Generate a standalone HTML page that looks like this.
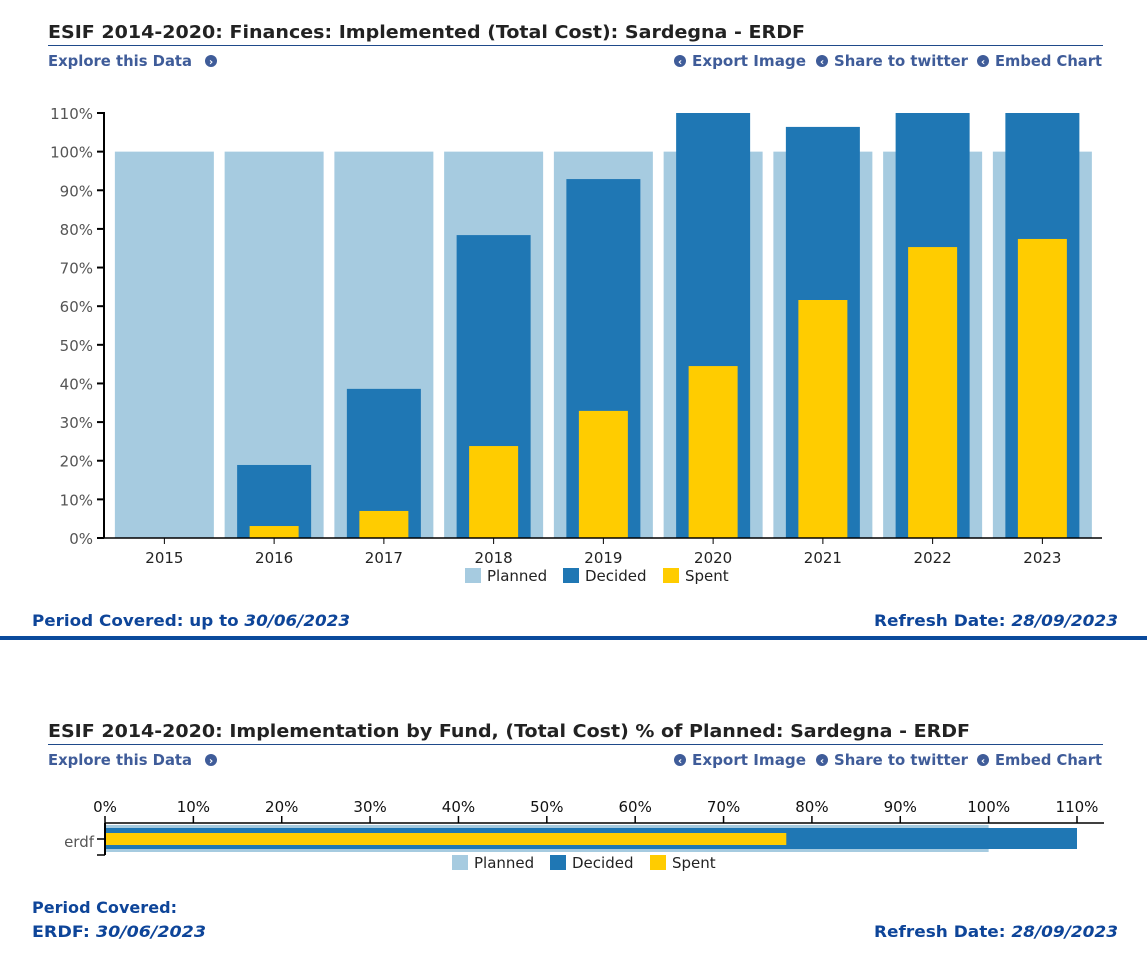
<!DOCTYPE html>
<html><head><meta charset="utf-8"><style>
html,body{margin:0;padding:0;background:#fff;}
svg{display:block;font-family:"DejaVu Sans","Liberation Sans",sans-serif;}
</style></head><body>
<svg id="page" width="1147" height="967" viewBox="0 0 1147 967" xmlns="http://www.w3.org/2000/svg">
<g>
<text x="48" y="38" font-size="18" font-weight="bold" fill="#222" textLength="757" lengthAdjust="spacingAndGlyphs">ESIF 2014-2020: Finances: Implemented (Total Cost): Sardegna - ERDF</text>
<line x1="48" y1="45.5" x2="1103" y2="45.5" stroke="#1f4a8a" stroke-width="1"/>
<g><text x="48" y="66" font-size="15" font-weight="bold" fill="#3f5c99" textLength="144" lengthAdjust="spacingAndGlyphs">Explore this Data</text><circle cx="211" cy="61" r="6" fill="#3f5c99"/><text x="211" y="65" font-size="10" font-weight="bold" fill="#fff" text-anchor="middle">›</text></g>
<g><circle cx="680" cy="61" r="6" fill="#3f5c99"/><text x="680" y="65" font-size="10" font-weight="bold" fill="#fff" text-anchor="middle">‹</text><text x="692" y="66" font-size="15" font-weight="bold" fill="#3f5c99" textLength="114" lengthAdjust="spacingAndGlyphs">Export Image</text></g>
<g><circle cx="822" cy="61" r="6" fill="#3f5c99"/><text x="822" y="65" font-size="10" font-weight="bold" fill="#fff" text-anchor="middle">‹</text><text x="834" y="66" font-size="15" font-weight="bold" fill="#3f5c99" textLength="134" lengthAdjust="spacingAndGlyphs">Share to twitter</text></g>
<g><circle cx="983" cy="61" r="6" fill="#3f5c99"/><text x="983" y="65" font-size="10" font-weight="bold" fill="#fff" text-anchor="middle">‹</text><text x="995" y="66" font-size="15" font-weight="bold" fill="#3f5c99" textLength="107" lengthAdjust="spacingAndGlyphs">Embed Chart</text></g>
</g>
<g id="chart1"></g>
<g>
<text x="32" y="626" font-size="16" font-weight="bold" fill="#0e4599" textLength="318" lengthAdjust="spacingAndGlyphs">Period Covered: up to <tspan font-style="italic">30/06/2023</tspan></text>
<text x="874" y="626" font-size="16" font-weight="bold" fill="#0e4599" textLength="244" lengthAdjust="spacingAndGlyphs">Refresh Date: <tspan font-style="italic">28/09/2023</tspan></text>
</g>
<rect x="0" y="636" width="1147" height="4" fill="#0a4a9c"/>
<g>
<text x="48" y="737" font-size="18" font-weight="bold" fill="#222" textLength="922" lengthAdjust="spacingAndGlyphs">ESIF 2014-2020: Implementation by Fund, (Total Cost) % of Planned: Sardegna - ERDF</text>
<line x1="48" y1="744.5" x2="1103" y2="744.5" stroke="#1f4a8a" stroke-width="1"/>
<g><text x="48" y="765" font-size="15" font-weight="bold" fill="#3f5c99" textLength="144" lengthAdjust="spacingAndGlyphs">Explore this Data</text><circle cx="211" cy="760" r="6" fill="#3f5c99"/><text x="211" y="764" font-size="10" font-weight="bold" fill="#fff" text-anchor="middle">›</text></g>
<g><circle cx="680" cy="760" r="6" fill="#3f5c99"/><text x="680" y="764" font-size="10" font-weight="bold" fill="#fff" text-anchor="middle">‹</text><text x="692" y="765" font-size="15" font-weight="bold" fill="#3f5c99" textLength="114" lengthAdjust="spacingAndGlyphs">Export Image</text></g>
<g><circle cx="822" cy="760" r="6" fill="#3f5c99"/><text x="822" y="764" font-size="10" font-weight="bold" fill="#fff" text-anchor="middle">‹</text><text x="834" y="765" font-size="15" font-weight="bold" fill="#3f5c99" textLength="134" lengthAdjust="spacingAndGlyphs">Share to twitter</text></g>
<g><circle cx="983" cy="760" r="6" fill="#3f5c99"/><text x="983" y="764" font-size="10" font-weight="bold" fill="#fff" text-anchor="middle">‹</text><text x="995" y="765" font-size="15" font-weight="bold" fill="#3f5c99" textLength="107" lengthAdjust="spacingAndGlyphs">Embed Chart</text></g>
</g>
<g id="chart2"></g>
<g>
<text x="32" y="913" font-size="16" font-weight="bold" fill="#0e4599" textLength="145" lengthAdjust="spacingAndGlyphs">Period Covered:</text>
<text x="32" y="937" font-size="16" font-weight="bold" fill="#0e4599" textLength="174" lengthAdjust="spacingAndGlyphs">ERDF: <tspan font-style="italic">30/06/2023</tspan></text>
<text x="874" y="937" font-size="16" font-weight="bold" fill="#0e4599" textLength="244" lengthAdjust="spacingAndGlyphs">Refresh Date: <tspan font-style="italic">28/09/2023</tspan></text>
</g>
</svg>
<script>
const years = ["2015","2016","2017","2018","2019","2020","2021","2022","2023"];
const planned = [100,100,100,100,100,100,100,100,100];
const decided = [0,18.9,38.6,78.4,92.9,112,106.4,112,112];
const spent = [0,3.1,7.0,23.8,32.9,44.5,61.6,75.3,77.4];
const yTicks = [0,10,20,30,40,50,60,70,80,90,100,110];
const funds = ["erdf"];
const fundPlanned = [100];
const fundDecided = [112];
const fundSpent = [77.1];
const xTicks2 = [0,10,20,30,40,50,60,70,80,90,100,110];
const legendLabels = ["Planned","Decided","Spent"];

const NS="http://www.w3.org/2000/svg";
const C_PL="#a6cbe0", C_DE="#1f77b4", C_SP="#ffcc00";
function mk(parent,tag,attrs,text){const e=document.createElementNS(NS,tag);for(const k in attrs)e.setAttribute(k,attrs[k]);if(text!==undefined)e.textContent=text;parent.appendChild(e);return e;}

// Chart 1
const g1=document.getElementById('chart1');
const y0=538, yTop=113, yMax=110;
const yS=v=>y0-(Math.min(v,yMax)/yMax)*(y0-yTop);
const xL=104, xR=1102, bx0=109.5, band=109.75;
const xC=i=>bx0+band*(i+0.5);
years.forEach((yr,i)=>{
  const c=xC(i);
  let r=mk(g1,'rect',{x:c-49.5,y:yS(planned[i]),width:99,height:y0-yS(planned[i]),fill:C_PL});
  
  
  if(decided[i]>0){r=mk(g1,'rect',{x:c-37,y:yS(decided[i]),width:74,height:y0-yS(decided[i]),fill:C_DE});
  
  }
  if(spent[i]>0){r=mk(g1,'rect',{x:c-24.5,y:yS(spent[i]),width:49,height:y0-yS(spent[i]),fill:C_SP});
  
  }
  mk(g1,'line',{x1:c,y1:y0,x2:c,y2:y0+6,stroke:'#000'});
  const t=mk(g1,'text',{x:c,y:y0+25,'font-size':15,'text-anchor':'middle',fill:'#222'},yr);
  
  
});
mk(g1,'line',{x1:xL,y1:yTop-1,x2:xL,y2:y0,stroke:'#000','stroke-width':2});
mk(g1,'line',{x1:xL,y1:y0,x2:xR,y2:y0,stroke:'#000','stroke-width':1.5});
yTicks.forEach(v=>{
  const y=yS(v);
  mk(g1,'line',{x1:xL-7,y1:y,x2:xL,y2:y,stroke:'#000','stroke-width':2});
  const t=mk(g1,'text',{x:xL-11,y:y+6,'font-size':15,'text-anchor':'end',fill:'#555'},v+'%');
  
  
});
function legend(g,xs,y,name){
  const cols=[C_PL,C_DE,C_SP];
  legendLabels.forEach((l,i)=>{
    const lg=mk(g,'g',{});
    
    
    mk(lg,'rect',{x:xs[i],y:y,width:16,height:15,fill:cols[i]});
    mk(lg,'text',{x:xs[i]+22,y:y+13,'font-size':15,fill:'#222'},l);
  });
}
legend(g1,[465,563,663],568,'legend1');

// Chart 2
const g2=document.getElementById('chart2');
const x0=105, x110=1077;
const xS=v=>x0+(Math.min(v,110)/110)*(x110-x0);
const ax=823;
mk(g2,'line',{x1:x0,y1:ax,x2:1104,y2:ax,stroke:'#000','stroke-width':1.5});
xTicks2.forEach(v=>{
  const x=xS(v);
  mk(g2,'line',{x1:x,y1:ax-7,x2:x,y2:ax,stroke:'#000','stroke-width':1.5});
  const t=mk(g2,'text',{x:x,y:ax-11,'font-size':15,'text-anchor':'middle',fill:'#111'},v+'%');
  
  
});
funds.forEach((f,i)=>{
  let r=mk(g2,'rect',{x:x0,y:825,width:xS(fundPlanned[i])-x0,height:27,fill:C_PL});
  
  
  r=mk(g2,'rect',{x:x0,y:828,width:xS(fundDecided[i])-x0,height:21,fill:C_DE});
  
  
  r=mk(g2,'rect',{x:x0,y:833,width:xS(fundSpent[i])-x0,height:12,fill:C_SP});
  
  
  const t=mk(g2,'text',{x:x0-11,y:847,'font-size':15,'text-anchor':'end',fill:'#555'},f);
  
  
});
mk(g2,'line',{x1:x0,y1:ax,x2:x0,y2:855,stroke:'#000','stroke-width':2});
mk(g2,'line',{x1:x0-8,y1:839,x2:x0,y2:839,stroke:'#000','stroke-width':1.5});
mk(g2,'line',{x1:x0-8,y1:855,x2:x0,y2:855,stroke:'#000','stroke-width':1.5});
legend(g2,[452,550,650],855,'legend2');
</script>
</body></html>
